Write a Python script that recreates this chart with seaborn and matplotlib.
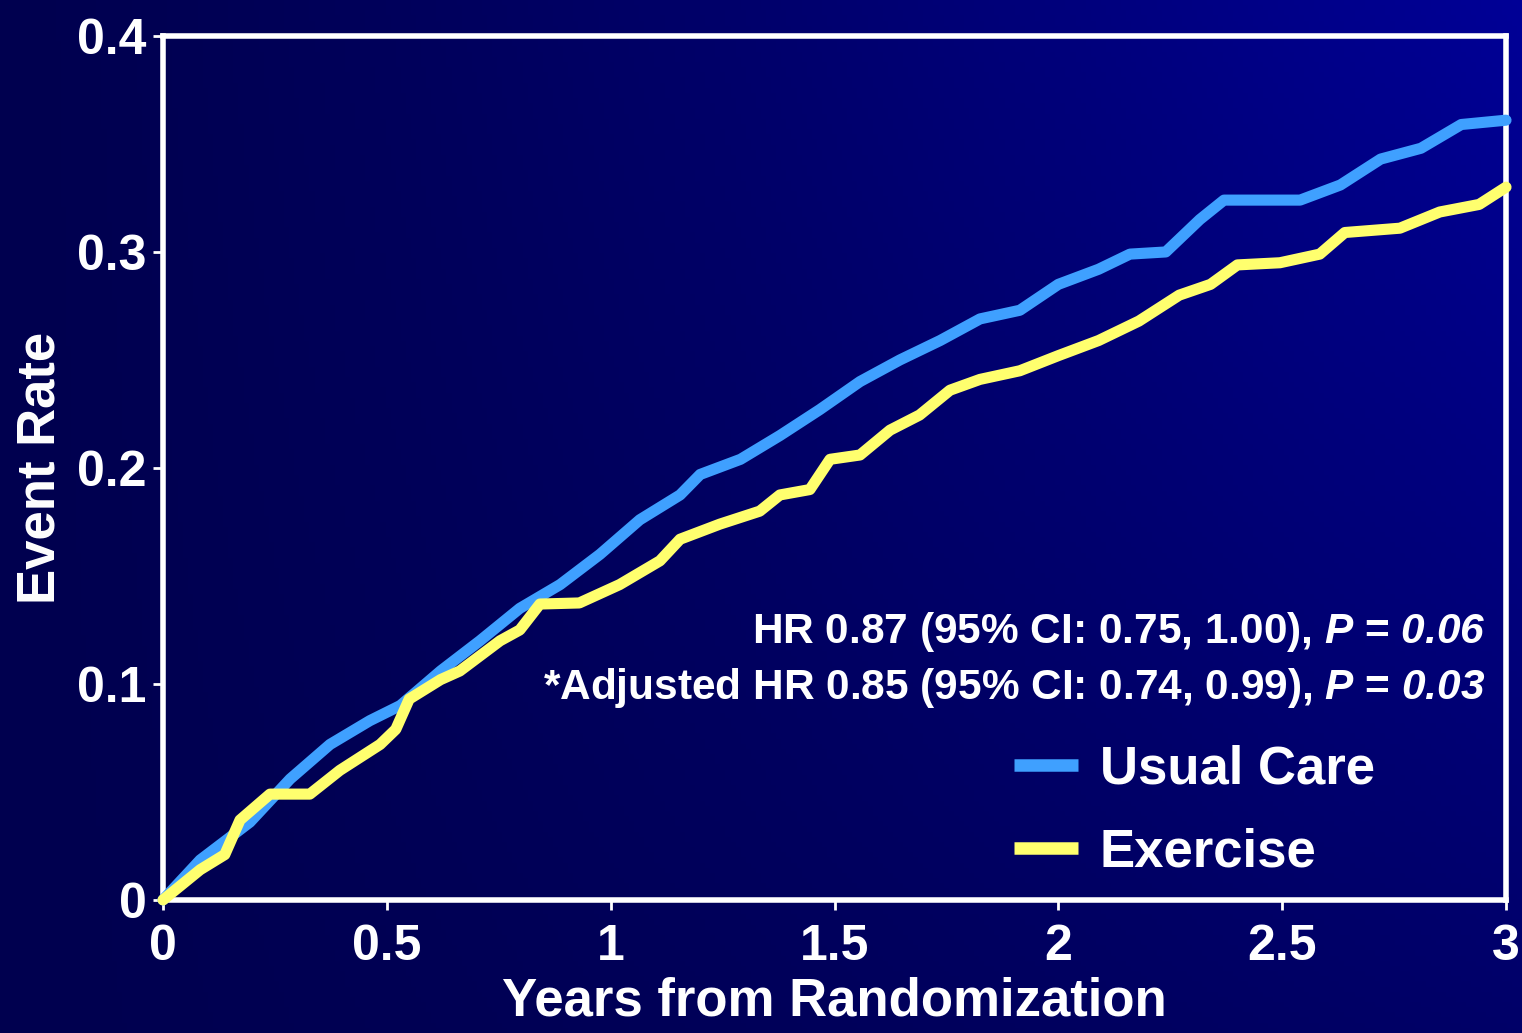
import numpy as np
import pandas as pd
import matplotlib.pyplot as plt
import seaborn as sns

# cumulative event rate
uc_years = [0, 0.083, 0.194, 0.284, 0.373, 0.462, 0.53, 0.62, 0.708, 0.797, 0.887,
            0.976, 1.065, 1.155, 1.2, 1.29, 1.378, 1.467, 1.557, 1.646, 1.736,
            1.825, 1.914, 2.0, 2.09, 2.16, 2.24, 2.316, 2.37, 2.54, 2.63, 2.72,
            2.81, 2.9, 3.0]
uc_rate = [0, 0.0185, 0.036, 0.056, 0.072, 0.083, 0.090, 0.106, 0.12, 0.135, 0.146,
           0.16, 0.176, 0.1875, 0.197, 0.204, 0.215, 0.227, 0.24, 0.25, 0.259,
           0.269, 0.273, 0.285, 0.292, 0.299, 0.3, 0.315, 0.324, 0.324, 0.331, 0.343,
           0.348, 0.359, 0.361]

ex_years = [0, 0.083, 0.138, 0.172, 0.239, 0.328, 0.395, 0.485, 0.52, 0.55, 0.62,
            0.663, 0.753, 0.797, 0.842, 0.93, 1.02, 1.11, 1.155, 1.244, 1.333,
            1.378, 1.445, 1.49, 1.557, 1.624, 1.69, 1.758, 1.825, 1.914, 2.0,
            2.09, 2.18, 2.27, 2.34, 2.4, 2.495, 2.584, 2.64, 2.763, 2.852, 2.94, 3.0]
ex_rate = [0, 0.014, 0.021, 0.037, 0.049, 0.049, 0.06, 0.072, 0.079, 0.093, 0.102,
           0.106, 0.12, 0.125, 0.137, 0.1375, 0.146, 0.157, 0.167, 0.174, 0.18,
           0.1875, 0.19, 0.204, 0.206, 0.2175, 0.2245, 0.236, 0.241, 0.245, 0.252,
           0.259, 0.268, 0.28, 0.285, 0.294, 0.295, 0.299, 0.309, 0.311, 0.3185, 0.322, 0.33]

x_ticks = [0, 0.5, 1, 1.5, 2, 2.5, 3]
x_tick_labels = ['0', '0.5', '1', '1.5', '2', '2.5', '3']
y_ticks = [0, 0.1, 0.2, 0.3, 0.4]
y_tick_labels = ['0', '0.1', '0.2', '0.3', '0.4']

# math parts are set in bold italic (P and the p-value)
hr_line = r"HR 0.87 (95% CI: 0.75, 1.00), $P$ = $0.06$"
adj_line = r"*Adjusted HR 0.85 (95% CI: 0.74, 0.99), $P$ = $0.03$"

sns.set_theme(style='white')
plt.rcParams['font.family'] = ['Liberation Sans', 'DejaVu Sans']
plt.rcParams['font.weight'] = 'bold'
plt.rcParams['mathtext.fontset'] = 'custom'
plt.rcParams['mathtext.rm'] = 'Liberation Sans:italic:bold'
plt.rcParams['mathtext.it'] = 'Liberation Sans:italic:bold'
plt.rcParams['mathtext.bf'] = 'Liberation Sans:bold'

fig = plt.figure(figsize=(15.22, 10.33), dpi=100)

# navy gradient backdrop, brighter towards the upper right
bg = fig.add_axes([0, 0, 1, 1], zorder=-1)
gx, gy = np.meshgrid(np.linspace(0, 1, 300), np.linspace(1, 0, 200))
t = np.clip(gx ** 1.3 * (0.35 + 0.65 * gy), 0, 1)
img = np.zeros((200, 300, 3))
img[..., 2] = 0.31 + 0.28 * t
bg.imshow(img, aspect='auto', extent=[0, 1, 0, 1])
bg.axis('off')

ax = fig.add_axes([0.1071, 0.1288, 0.8824, 0.8364])
ax.set_facecolor('none')

uc = pd.DataFrame({'years': uc_years, 'rate': uc_rate})
ex = pd.DataFrame({'years': ex_years, 'rate': ex_rate})
sns.lineplot(data=uc, x='years', y='rate', ax=ax, color='#3fa0ff', lw=8,
             label='Usual Care', estimator=None, sort=False,
             solid_capstyle='round', clip_on=False, zorder=3)
sns.lineplot(data=ex, x='years', y='rate', ax=ax, color='#ffff6e', lw=8,
             label='Exercise', estimator=None, sort=False,
             solid_capstyle='round', clip_on=False, zorder=4)

ax.set_xlim(0, 3)
ax.set_ylim(0, 0.4)
ax.set_xticks(x_ticks)
ax.set_xticklabels(x_tick_labels)
ax.set_xticks(np.arange(0.25, 3, 0.5), minor=True)
ax.set_yticks(y_ticks)
ax.set_yticklabels(y_tick_labels)

for s in ax.spines.values():
    s.set_color('white')
    s.set_linewidth(4)
ax.tick_params(axis='both', which='major', colors='white', labelsize=36,
               direction='out', length=7, width=2, pad=5)
ax.tick_params(axis='x', which='major', pad=10)
ax.tick_params(axis='x', which='minor', colors='white', direction='out',
               length=4, width=2)
ax.tick_params(axis='both', left=True, bottom=True)

ax.set_xlabel('Years from Randomization', color='white', fontsize=38,
              fontweight='bold', labelpad=5)
ax.set_ylabel('Event Rate', color='white', fontsize=38, fontweight='bold',
              labelpad=8)

ax.text(0.985, 0.31, hr_line, transform=ax.transAxes, ha='right', va='center',
        color='white', fontsize=30.5)
ax.text(0.985, 0.245, adj_line, transform=ax.transAxes, ha='right', va='center',
        color='white', fontsize=30.5)

leg = ax.legend(loc='upper left', bbox_to_anchor=(0.634, 0.18), frameon=False,
                fontsize=38, handlelength=1.2, handletextpad=0.42,
                labelspacing=0.62, borderpad=0, borderaxespad=0)
for txt in leg.get_texts():
    txt.set_color('white')
    txt.set_fontweight('bold')
for h in leg.get_lines():
    h.set_linewidth(9)
    h.set_solid_capstyle('butt')

fig.savefig('out.png', dpi=100, facecolor='#000050')
